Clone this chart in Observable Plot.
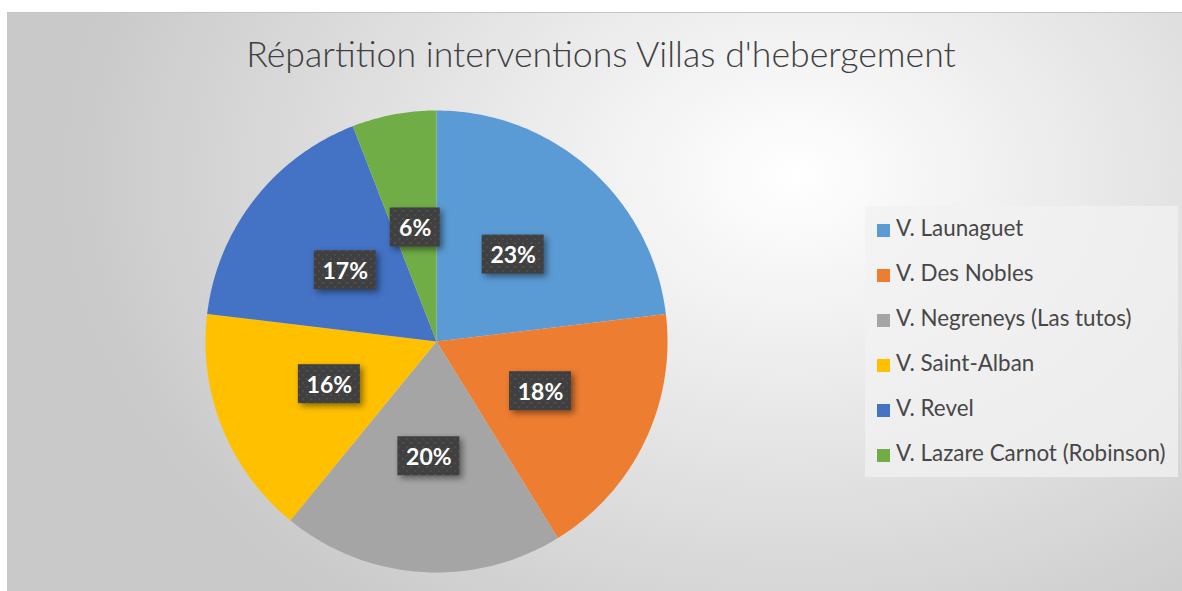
<!DOCTYPE html>
<html>
<head>
<meta charset="utf-8">
<script src="https://cdn.jsdelivr.net/npm/d3@7"></script>
<script src="https://cdn.jsdelivr.net/npm/@observablehq/plot@0.6"></script>
<style>
  html, body { margin: 0; padding: 0; background: #ffffff; }
  #page { position: relative; width: 1182px; height: 591px; overflow: hidden; }
  #bg { position: absolute; left: 7px; top: 12px; width: 1175px; height: 579px;
        border-top: 1px solid #c4c4c4;
        background: radial-gradient(ellipse 62% 95% at 67% 28%, #ffffff 0%, #f2f2f2 25%, #c9c9c9 100%); }
  #title { position: absolute; left: 0; top: 32px; width: 1202px; text-align: center;
           font-family: Lato, "Open Sans", sans-serif; font-weight: 300; font-size: 35.7px; color: #404040; }
  #legend { position: absolute; left: 865px; top: 206px; width: 313px; height: 271px;
            background: rgba(242,242,242,0.75); }
  .item { position: absolute; left: 12px; height: 24px; line-height: 24px;
          font-family: Lato, "Open Sans", sans-serif; font-size: 22.4px; color: #474747; white-space: nowrap; }
  .sw { display: inline-block; width: 13px; height: 13px; margin-right: 6px; vertical-align: -1px; }
  #chart { position: absolute; left: 0; top: 0; }
  g[aria-label="rect"] rect { filter: drop-shadow(3px 3px 3px rgba(0,0,0,0.45)); }
</style>
</head>
<body>
<div id="page">
  <div id="bg"></div>
  <div id="title"></div>
  <div id="legend"></div>
  <div id="chart"></div>
</div>
<script>
const title = "Répartition interventions Villas d'hebergement";
const names = ["V. Launaguet", "V. Des Nobles", "V. Negreneys (Las tutos)", "V. Saint-Alban", "V. Revel", "V. Lazare Carnot (Robinson)"];
const values = [23.1, 18.1, 19.7, 16.0, 17.2, 5.9];
const colors = ["#5b9bd5", "#ed7d31", "#a5a5a5", "#ffc000", "#4472c4", "#70ad47"];

document.getElementById("title").textContent = title;
const legend = document.getElementById("legend");
names.forEach((n, i) => {
  const d = document.createElement("div");
  d.className = "item";
  d.style.top = (10 + i * 45) + "px";
  d.innerHTML = `<span class="sw" style="background:${colors[i]}"></span>`;
  d.appendChild(document.createTextNode(n));
  legend.appendChild(d);
});

const total = d3.sum(values);
const arcs = d3.pie().sort(null).value(d => d)(values);
const slicePts = [];
arcs.forEach((a, i) => {
  slicePts.push({name: names[i], x: 0, y: 0});
  const n = Math.max(8, Math.ceil((a.endAngle - a.startAngle) * 60));
  for (let k = 0; k <= n; k++) {
    const t = a.startAngle + (a.endAngle - a.startAngle) * k / n;
    slicePts.push({name: names[i], x: Math.sin(t), y: Math.cos(t)});
  }
  slicePts.push({name: names[i], x: 0, y: 0});
});
const labelData = arcs.map((a, i) => {
  const m = (a.startAngle + a.endAngle) / 2;
  return {name: names[i], x: 0.5 * Math.sin(m), y: 0.5 * Math.cos(m), text: Math.round(values[i] / total * 100) + "%"};
});

const boxOpts = (w) => ({x1: "x", x2: "x", y1: "y", y2: "y",
  insetLeft: -w / 2, insetRight: -w / 2, insetTop: -20, insetBottom: -19, fill: "url(#dots)"});

const chart = Plot.plot({
  width: 1182, height: 591,
  margin: 0,
  style: {background: "transparent", overflow: "visible"},
  x: {domain: [-1, 1], range: [205, 667], axis: null},
  y: {domain: [-1, 1], range: [572, 110], axis: null},
  color: {domain: names, range: colors},
  marks: [
    Plot.line(slicePts, {x: "x", y: "y", z: "name", fill: "name", stroke: null, curve: "linear"}),
    Plot.rect(labelData.filter(d => d.text.length === 3), boxOpts(62)),
    Plot.rect(labelData.filter(d => d.text.length === 2), boxOpts(50)),
    Plot.text(labelData, {x: "x", y: "y", text: "text", fill: "white", fontWeight: "bold",
      fontSize: 23, fontFamily: "Lato, 'Open Sans', sans-serif", dy: 1})
  ]
});
const ns = "http://www.w3.org/2000/svg";
const defs = document.createElementNS(ns, "defs");
defs.innerHTML = `<pattern id="dots" patternUnits="userSpaceOnUse" width="8" height="8">
  <rect width="8" height="8" fill="#404040"></rect>
  <rect x="2" y="2" width="2" height="2" fill="#4f4f4f"></rect>
  <rect x="6" y="6" width="2" height="2" fill="#4a4a4a"></rect></pattern>`;
chart.insertBefore(defs, chart.firstChild);
document.getElementById("chart").appendChild(chart);
</script>
</body>
</html>
